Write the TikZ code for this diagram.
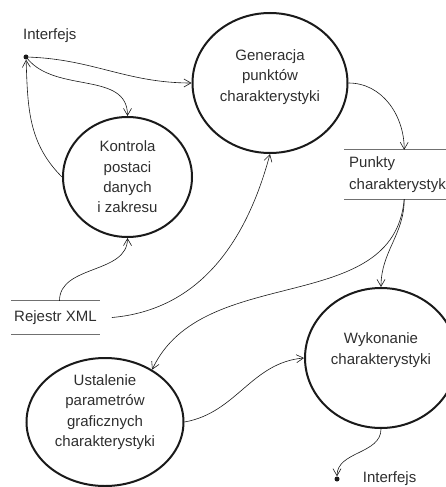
\documentclass[tikz,border=0pt]{standalone}
\usepackage{fontspec}
\setmainfont{Liberation Sans}
\usetikzlibrary{positioning,arrows.meta,shapes.geometric}
\definecolor{ink}{HTML}{1A1A1A}
\definecolor{textgray}{HTML}{2E2E2E}
\definecolor{storegray}{HTML}{707070}

\begin{document}
\begin{tikzpicture}[
  x=1pt, y=1pt,
  proc/.style={draw=ink, line width=2pt, ellipse, inner sep=0pt},
  ptext/.style={align=center, font=\fontsize{15}{20.3}\selectfont, text=textgray},
  store/.style={align=left, font=\fontsize{15}{22}\selectfont, text=textgray, inner xsep=5pt, inner ysep=0pt},
  storeline/.style={draw=storegray, line width=1pt},
  ext/.style={circle, fill=ink, inner sep=0pt, minimum size=5pt},
  lbl/.style={font=\fontsize{15}{18}\selectfont, text=textgray, inner sep=1pt},
  arr/.style={-{Straight Barb[length=7pt,width=8pt]}, line width=0.6pt, color=ink}
]
  \useasboundingbox (0,0) rectangle (445,-487);

  % Processes
  \node[proc, minimum width=155pt, minimum height=140pt] (gen) at (270,-83) {};
  \node[ptext] (gentxt) at ([yshift=6pt]gen.center) {Generacja\\punktów\\charakterystyki};

  \node[proc, minimum width=129pt, minimum height=120pt] (kon) at (127.5,-177) {};
  \node[ptext] (kontxt) at (kon.center) {Kontrola\\postaci\\danych\\i zakresu};

  \node[proc, minimum width=157pt, minimum height=128pt] (ust) at (105,-422) {};
  \node[ptext] (usttxt) at ([yshift=10pt]ust.center) {Ustalenie\\parametrów\\graficznych\\charakterystyki};

  \node[proc, minimum width=152pt, minimum height=140pt] (wyk) at (381,-358) {};
  \node[ptext] (wyktxt) at ([yshift=8pt]wyk.center) {Wykonanie\\charakterystyki};

  % Data stores
  \node[store, minimum height=49pt, anchor=west] (pkt) at (344,-174.5) {Punkty\\charakterystyki};
  \draw[storeline] (pkt.north west) -- (pkt.north east);
  \draw[storeline] (pkt.south west) -- (pkt.south east);

  \node[store, inner xsep=3pt, minimum height=33pt] (rej) at (55.5,-317.5) {Rejestr XML};
  \draw[storeline] (rej.north west) -- (rej.north east);
  \draw[storeline] (rej.south west) -- (rej.south east);

  % Interfaces
  \node[ext] (ifin) at (26,-57) {};
  \node[lbl, above right=11pt and -6pt of ifin] (ifinlbl) {Interfejs};
  \node[ext] (ifout) at (337,-479) {};
  \node[lbl, right=22pt of ifout] (ifoutlbl) {Interfejs};

  % Flows
  \draw[arr] (ifin) to[out=-2,in=180] (gen.west);
  \draw[arr] (ifin) to[out=-50,in=90] (kon.north);
  \draw[arr] (kon.west) to[out=135,in=-88] (ifin);
  \draw[arr] (gen.east) to[out=0,in=90] ([xshift=5pt]pkt.north);
  \draw[arr] ([xshift=4pt]rej.north) to[out=90,in=-90] (kon.south);
  \draw[arr] ([xshift=12pt]rej.east) to[out=5,in=-105] (gen.south);
  \draw[arr] ([xshift=5pt]pkt.south) to[out=-95,in=65] (ust.48);
  \draw[arr] ([xshift=5pt]pkt.south) to[out=-90,in=90] (wyk.north);
  \draw[arr] (ust.east) to[out=10,in=185] (wyk.west);
  \draw[arr] (wyk.south) to[out=-90,in=90] (ifout);
\end{tikzpicture}
\end{document}
